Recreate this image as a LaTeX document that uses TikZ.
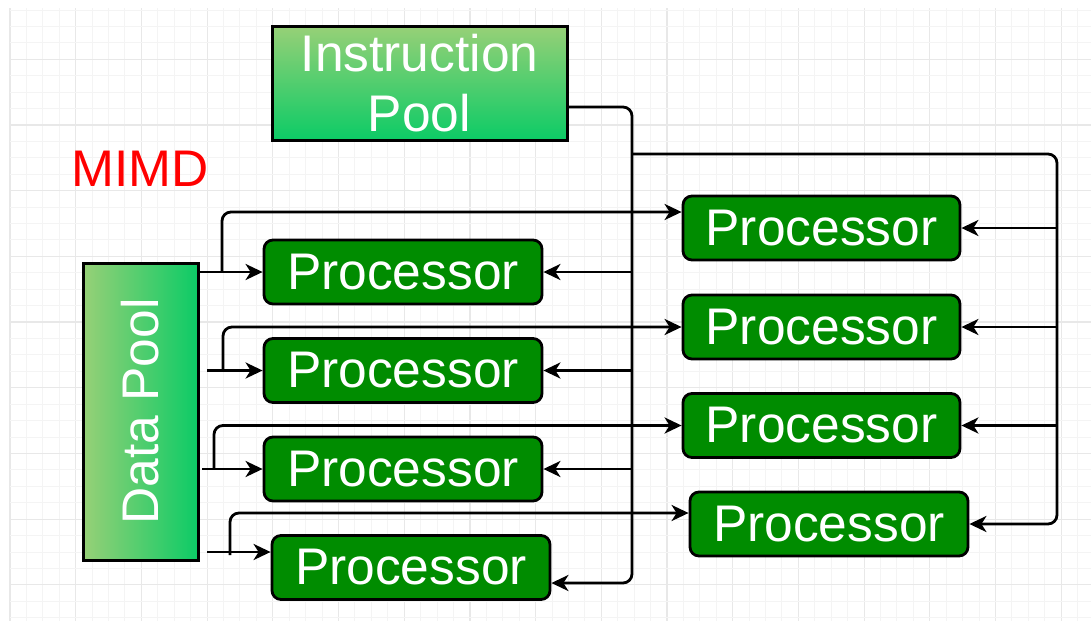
\documentclass[tikz,border=0pt]{standalone}
\usepackage{fontspec}
\setmainfont{Liberation Sans}
\usetikzlibrary{arrows.meta,calc}
\definecolor{procgreen}{HTML}{008C00}
\definecolor{poollight}{HTML}{97D077}
\definecolor{pooldark}{HTML}{0CCB66}
\definecolor{gridmajor}{HTML}{E8E8E8}
\definecolor{gridminor}{HTML}{F4F4F4}
\definecolor{mimdred}{HTML}{FF0000}
\tikzset{
  proc/.style={draw=black, line width=2.8pt, fill=procgreen, rounded corners=9pt,
    minimum width=278pt, minimum height=64pt, inner sep=0pt, text=white,
    font=\fontsize{51.5}{58}\selectfont},
  pool/.style={draw=black, line width=3pt, inner sep=0pt, text=white, align=center,
    font=\fontsize{51.5}{60}\selectfont},
  arr/.style={draw=black, line width=2.8pt, -{Stealth[length=17pt,width=16pt,inset=5pt]}},
}
\begin{document}
\begin{tikzpicture}[x=1pt,y=-1pt]
\useasboundingbox (0,0) rectangle (1091,621);
\fill[white] (0,0) rectangle (1091,621);
% grid
\foreach \i in {0,...,66} {
  \pgfmathsetmacro{\gx}{10+\i*16.425}
  \pgfmathtruncatemacro{\m}{mod(\i,4)}
  \ifnum\m=0
    \draw[gridmajor, line width=1.2pt] (\gx,8) -- (\gx,621);
  \else
    \draw[gridminor, line width=1pt] (\gx,8) -- (\gx,621);
  \fi
}
\foreach \i in {0,...,37} {
  \pgfmathsetmacro{\gy}{10+\i*16.425}
  \pgfmathtruncatemacro{\m}{mod(\i,4)}
  \ifnum\m=3
    \draw[gridmajor, line width=1.2pt] (10,\gy) -- (1091,\gy);
  \else
    \draw[gridminor, line width=1pt] (10,\gy) -- (1091,\gy);
  \fi
}

% pools
\node[pool, minimum width=295pt, minimum height=114pt, top color=poollight, bottom color=pooldark]
  (IP) at (419.5,83) {Instruction\\Pool};
\node[pool, minimum width=115pt, minimum height=297pt, left color=poollight, right color=pooldark]
  (DP) at (140.5,411.5) {\rotatebox{90}{Data Pool}};
\node[text=mimdred, font=\fontsize{51.5}{58}\selectfont] (MIMD) at (140,169) {MIMD};

% processors
\node[proc] (P1) at (403,272) {Processor};
\node[proc] (P2) at (403,370.5) {Processor};
\node[proc] (P3) at (403,469) {Processor};
\node[proc] (P4) at (411,567.5) {Processor};
\node[proc, minimum width=277pt] (R1) at (821.5,228) {Processor};
\node[proc, minimum width=277pt] (R2) at (821.5,327) {Processor};
\node[proc, minimum width=277pt] (R3) at (821.5,425.5) {Processor};
\node[proc] (R4) at (829,524) {Processor};

% instruction distribution
\coordinate (tx) at (632,0);
\coordinate (rx) at (1057,0);
\coordinate (ty) at (632,154);
\coordinate (p4in) at ([yshift=-15.5pt]P4.east);
\draw[arr, rounded corners=9pt] ([yshift=-24pt]IP.east) -| (tx |- p4in) -- (p4in);
\draw[arr] (tx |- P1.east) -- (P1.east);
\draw[arr] (tx |- P2.east) -- (P2.east);
\draw[arr] (tx |- P3.east) -- (P3.east);
\draw[arr, rounded corners=9pt] (ty) -| (rx |- R4.east) -- (R4.east);
\draw[arr] (rx |- R1.east) -- (R1.east);
\draw[arr] (rx |- R2.east) -- (R2.east);
\draw[arr] (rx |- R3.east) -- (R3.east);

% data distribution
\coordinate (d1) at (DP.east |- P1.west);
\coordinate (d2) at (207,370.5);
\coordinate (d3) at (202,469);
\coordinate (p4d) at ([yshift=15.5pt]P4.west);
\coordinate (d4) at (207,552);
\draw[arr] (d1) -- (P1.west);
\draw[arr] (d2) -- (P2.west);
\draw[arr] (d3) -- (P3.west);
\draw[arr] (d4) -- (p4d);
\draw[arr, rounded corners=9pt] (222,272) |- ([yshift=16pt]R1.west);
\draw[arr, rounded corners=9pt] (223,370.5) |- (R2.west);
\draw[arr, rounded corners=9pt] (214,469) |- (R3.west);
\draw[arr, rounded corners=9pt] (230,555) |- ([yshift=11pt]R4.west);
\end{tikzpicture}
\end{document}
